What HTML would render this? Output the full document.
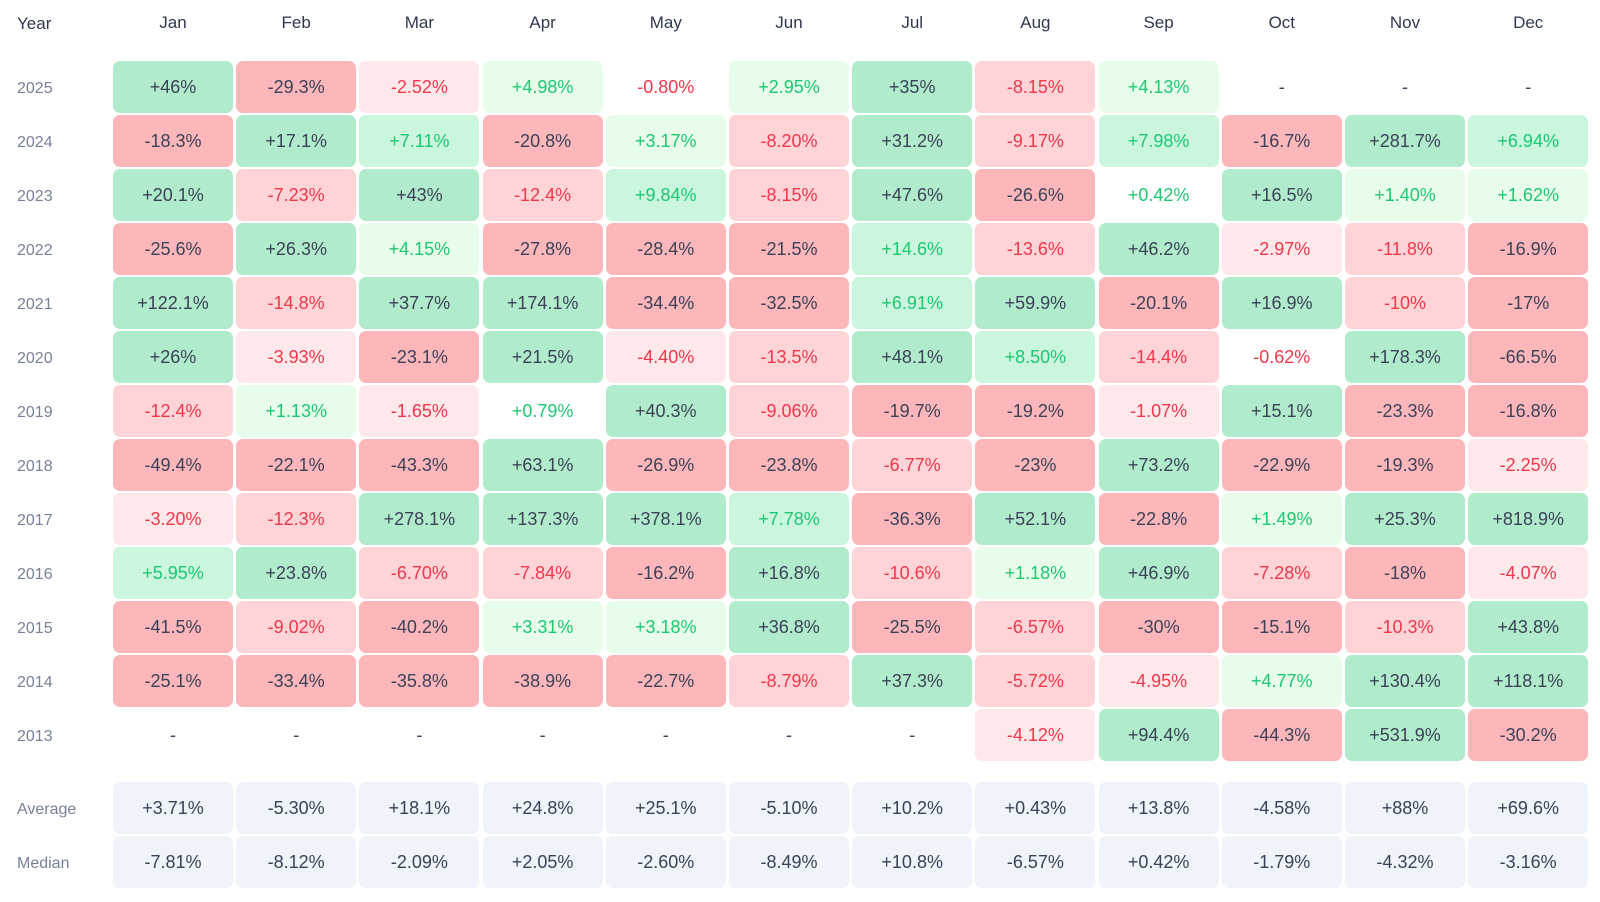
<!DOCTYPE html>
<html><head><meta charset="utf-8">
<style>
body{margin:0;width:1600px;height:902px;background:#fff;font-family:"Liberation Sans",sans-serif;overflow:hidden;position:relative}
.c{position:absolute;display:flex;align-items:center;justify-content:center;border-radius:7px;font-size:18px;color:#3a4257}
.h{position:absolute;font-size:17px;color:#2f3850;transform:translateX(-50%)}
.y{position:absolute;left:17px;font-size:16px;color:#76819a;transform:translateY(-50%)}
</style></head><body>
<div id="root"></div>
<script>
const months=["Jan","Feb","Mar","Apr","May","Jun","Jul","Aug","Sep","Oct","Nov","Dec"];
const years=[2025,2024,2023,2022,2021,2020,2019,2018,2017,2016,2015,2014,2013];
const r2025=[46,-29.3,-2.52,4.98,-0.80,2.95,35,-8.15,4.13,null,null,null];
const r2024=[-18.3,17.1,7.11,-20.8,3.17,-8.20,31.2,-9.17,7.98,-16.7,281.7,6.94];
const r2023=[20.1,-7.23,43,-12.4,9.84,-8.15,47.6,-26.6,0.42,16.5,1.40,1.62];
const r2022=[-25.6,26.3,4.15,-27.8,-28.4,-21.5,14.6,-13.6,46.2,-2.97,-11.8,-16.9];
const r2021=[122.1,-14.8,37.7,174.1,-34.4,-32.5,6.91,59.9,-20.1,16.9,-10,-17];
const r2020=[26,-3.93,-23.1,21.5,-4.40,-13.5,48.1,8.50,-14.4,-0.62,178.3,-66.5];
const r2019=[-12.4,1.13,-1.65,0.79,40.3,-9.06,-19.7,-19.2,-1.07,15.1,-23.3,-16.8];
const r2018=[-49.4,-22.1,-43.3,63.1,-26.9,-23.8,-6.77,-23,73.2,-22.9,-19.3,-2.25];
const r2017=[-3.20,-12.3,278.1,137.3,378.1,7.78,-36.3,52.1,-22.8,1.49,25.3,818.9];
const r2016=[5.95,23.8,-6.70,-7.84,-16.2,16.8,-10.6,1.18,46.9,-7.28,-18,-4.07];
const r2015=[-41.5,-9.02,-40.2,3.31,3.18,36.8,-25.5,-6.57,-30,-15.1,-10.3,43.8];
const r2014=[-25.1,-33.4,-35.8,-38.9,-22.7,-8.79,37.3,-5.72,-4.95,4.77,130.4,118.1];
const r2013=[null,null,null,null,null,null,null,-4.12,94.4,-44.3,531.9,-30.2];
const rows=[r2025,r2024,r2023,r2022,r2021,r2020,r2019,r2018,r2017,r2016,r2015,r2014,r2013];
const averages=[3.71,-5.30,18.1,24.8,25.1,-5.10,10.2,0.43,13.8,-4.58,88,69.6];
const medians=[-7.81,-8.12,-2.09,2.05,-2.60,-8.49,10.8,-6.57,0.42,-1.79,-4.32,-3.16];

const X0=113,PX=123.2,CW=120,Y0=61,PY=54,CH=52;
const root=document.getElementById('root');
function xOf(i){return X0+i*PX;}
function yOf(j){return Y0+j*PY;}
function fmt(v){const a=Math.abs(v);let s=a<10?a.toFixed(2):a.toFixed(1).replace(/\.0$/,'');return (v>=0?'+':'-')+s+'%';}
function style(v){const a=Math.abs(v),p=v>=0;
 if(a>=15)return [p?'#b0ebcb':'#fdb6ba','#3a4257'];
 if(a>=5)return [p?'#c9f6dc':'#ffd4d7',p?'#1ec772':'#f2364c'];
 if(a>=1)return [p?'#e7fce9':'#ffe8ea',p?'#1ec772':'#f2364c'];
 return ['#ffffff',p?'#1ec772':'#f2364c'];}
function label(cls,txt,l,t){const d=document.createElement('div');d.className=cls;d.textContent=txt;d.style.left=l+'px';d.style.top=t+'px';root.appendChild(d);return d;}

let yh=label('y','Year',17,24);


yh.style.color='#2f3850';yh.style.fontSize='17px';
months.forEach((m,i)=>{const d=label('h',m,xOf(i)+CW/2,13);
 
 });
years.forEach((yr,j)=>{const d=label('y',String(yr),17,yOf(j)+CH/2+2);
 
 
 rows[j].forEach((v,i)=>{const c=document.createElement('div');c.className='c';
  c.style.left=xOf(i)+'px';c.style.top=yOf(j)+'px';c.style.width=CW+'px';c.style.height=CH+'px';
  if(v===null){c.textContent='-';}else{const s=style(v);c.style.background=s[0];c.style.color=s[1];c.textContent=fmt(v);}
  
  
  root.appendChild(c);});});
[[averages,'Average',782],[medians,'Median',836]].forEach(([arr,name,top])=>{
 const d=label('y',name,17,top+CH/2+2);
 
 
 arr.forEach((v,i)=>{const c=document.createElement('div');c.className='c';
  c.style.left=xOf(i)+'px';c.style.top=top+'px';c.style.width=CW+'px';c.style.height=CH+'px';
  c.style.background='#eff3fa';c.textContent=fmt(v);
  
  
  root.appendChild(c);});});
</script>
</body></html>
